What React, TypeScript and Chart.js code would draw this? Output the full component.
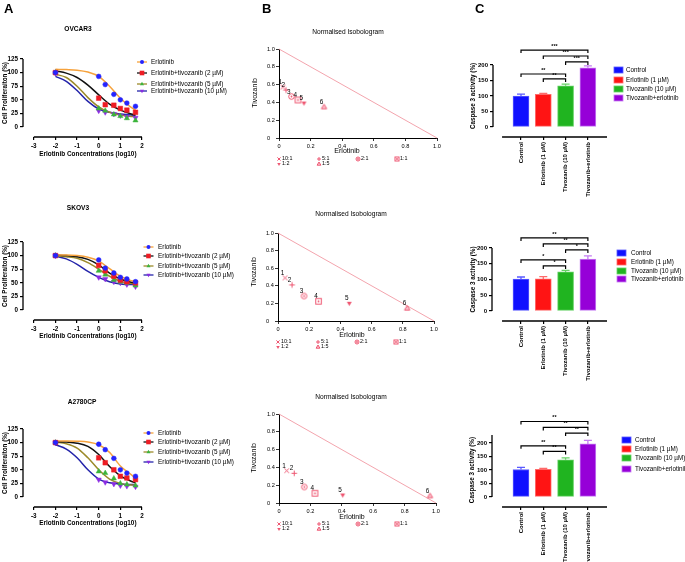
import React, { useEffect, useRef } from "react";
import { Chart, registerables } from "chart.js";

Chart.register(...registerables);

const W = 685;
const H = 562;
const FF = "'Liberation Sans', Arial, Helvetica, sans-serif";

// ---------------- Panel A : dose-response ----------------
const DOSE_LOG10 = [-2, 0, 0.301, 0.699, 1, 1.301, 1.699];
const FIT_LOG10 = [-2, -1.5, -1, -0.5, 0, 0.5, 1, 1.5, 1.7];
const A_SERIES = [
  "Erlotinib",
  "Erlotinib+tivozanib (2 µM)",
  "Erlotinib+tivozanib (5 µM)",
  "Erlotinib+tivozanib (10 µM)",
];
const A_X_TICKS = [-3, -2, -1, 0, 1, 2];
const A_Y_TICKS = [0, 25, 50, 75, 100, 125];

const OVCAR3_ERL = [100, 93, 78, 60, 50, 44, 38];
const OVCAR3_TIV2 = [100, 53, 41, 40, 34, 31, 27];
const OVCAR3_TIV5 = [100, 34, 30, 23, 20, 16, 12];
const OVCAR3_TIV10 = [99, 30, 27, 24, 21, 19, 17];
const OVCAR3_FIT_ERL = [106, 105.5, 104.5, 101, 93, 75, 53, 36, 31];
const OVCAR3_FIT_TIV2 = [103, 99, 91, 77, 59, 42, 31, 24, 22];
const OVCAR3_FIT_TIV5 = [97, 91, 75, 54, 37, 27, 22, 19.5, 19];
const OVCAR3_FIT_TIV10 = [93, 84, 67, 47, 33, 27, 24, 22, 21];

const SKOV3_ERL = [100, 92, 77, 68, 60, 57, 52];
const SKOV3_TIV2 = [100, 82, 72, 62, 55, 52, 50];
const SKOV3_TIV5 = [100, 72, 65, 55, 52, 50, 45];
const SKOV3_TIV10 = [100, 60, 57, 52, 50, 47, 43];
const SKOV3_FIT_ERL = [101, 101, 100, 97, 90, 76, 62, 54, 52];
const SKOV3_FIT_TIV2 = [101, 100, 98, 93, 83, 68, 57, 51, 50];
const SKOV3_FIT_TIV5 = [100, 98, 95, 87, 75, 62, 53, 49, 48];
const SKOV3_FIT_TIV10 = [99, 94, 84, 71, 60, 52, 48, 47, 47];

const A2780_ERL = [100, 97, 87, 71, 50, 44, 38];
const A2780_TIV2 = [100, 72, 63, 50, 38, 35, 32];
const A2780_TIV5 = [100, 47, 44, 34, 25, 23, 21];
const A2780_TIV10 = [100, 32, 27, 24, 21, 20, 19];
const A2780_FIT_ERL = [103, 103, 102.5, 101, 96, 82, 57, 41, 35];
const A2780_FIT_TIV2 = [102, 101, 99, 93, 78, 56, 39, 29, 26];
const A2780_FIT_TIV5 = [101, 98, 90, 72, 50, 33, 25, 22, 22];
const A2780_FIT_TIV10 = [96, 88, 72, 50, 33, 26, 24, 23, 23];

// ---------------- Panel B : normalised isobolograms ----------------
const ISO_RATIOS = ["10:1", "5:1", "2:1", "1:1", "1:2", "1:5"];
const ISO_TICKS = [0, 0.2, 0.4, 0.6, 0.8, 1.0];
const ISO_ADD_X = [0, 1];
const ISO_ADD_Y = [1, 0];
const OVCAR3_ISO_X = [0.025, 0.044, 0.079, 0.12, 0.158, 0.285];
const OVCAR3_ISO_Y = [0.573, 0.539, 0.466, 0.427, 0.393, 0.348];
const SKOV3_ISO_X = [0.045, 0.09, 0.167, 0.26, 0.457, 0.828];
const SKOV3_ISO_Y = [0.49, 0.41, 0.284, 0.224, 0.201, 0.144];
const A2780_ISO_X = [0.049, 0.097, 0.161, 0.229, 0.406, 0.962];
const A2780_ISO_Y = [0.363, 0.334, 0.18, 0.109, 0.09, 0.079];

// ---------------- Panel C : caspase 3 activity ----------------
const C_GROUPS = ["Control", "Erlotinib (1 µM)", "Tivozanib (10 µM)", "Tivozanib+erlotinib"];
const C_LEGEND = ["Control", "Erlotinib (1 µM)", "Tivozanib (10 µM)", "Tivozanib+erlotinib"];
const C_Y_TICKS = [0, 50, 100, 150, 200];
const OVCAR3_CASP = [100, 105, 133, 191];
const OVCAR3_CASP_ERR = [6, 3, 5, 6];
const SKOV3_CASP = [101, 102, 124, 165];
const SKOV3_CASP_ERR = [7, 7, 5, 10];
const A2780_CASP = [102, 103, 138, 197];
const A2780_CASP_ERR = [8, 3, 7, 13];
const SIG_PAIRS = [[0, 3], [1, 3], [2, 3], [0, 2], [1, 2]];
const OVCAR3_SIG = ["***", "***", "***", "**", "**"];
const SKOV3_SIG = ["**", "**", "*", "*", "*"];
const A2780_SIG = ["**", "**", "**", "**", "**"];

// ---------------- styles ----------------
const A_POINT_COLOR = ["#2424ff", "#ee1c24", "#3cb43c", "#8a2be2"];
const A_LINE_COLOR = ["#f6a23c", "#111111", "#9c8a2a", "#2424aa"];
const A_POINT_STYLE = ["circle", "rect", "triangle", "triangle"];
const A_POINT_ROT = [0, 0, 0, 180];
const A_POINT_R = [2.4, 3.3, 3.0, 3.0];
const A_MARK = ["circle", "square", "tri", "triDown"];
const ISO_MARKS = ["x", "plus", "circDot", "rectDot", "triDown", "triOpen"];
const ISO_COLOR = "#ee5570";
const ISO_LINE_COLOR = "#f29aa4";
const C_FILL = ["#1010ff", "#ff1414", "#20b420", "#9600d8"];
const C_EDGE = ["#5a5aff", "#ff6a6a", "#66d266", "#c57cf2"];

type Area = { l: number; t: number; r: number; b: number };

function pad(a: Area, yw: number, xh: number) {
  return { left: a.l - yw, top: a.t, right: W - a.r, bottom: H - a.b - xh };
}
const fixTicks = (vals: number[]) => (s: any) => {
  s.ticks = vals.map((v) => ({ value: v }));
};

function drawText(
  ctx: CanvasRenderingContext2D,
  s: string,
  x: number,
  y: number,
  font: string,
  align: CanvasTextAlign = "center",
  rot = 0,
  baseline: CanvasTextBaseline = "middle"
) {
  ctx.save();
  ctx.translate(x, y);
  if (rot) ctx.rotate(rot);
  ctx.font = font;
  ctx.fillStyle = "#000";
  ctx.textAlign = align;
  ctx.textBaseline = baseline;
  ctx.fillText(s, 0, 0);
  ctx.restore();
}

function drawMark(ctx: CanvasRenderingContext2D, kind: string, x: number, y: number, r: number, color: string) {
  ctx.save();
  ctx.strokeStyle = color;
  ctx.fillStyle = color;
  ctx.lineWidth = 1;
  ctx.beginPath();
  if (kind === "circle") {
    ctx.arc(x, y, r, 0, 2 * Math.PI);
    ctx.fill();
  } else if (kind === "square") {
    ctx.fillRect(x - r, y - r, 2 * r, 2 * r);
  } else if (kind === "tri") {
    ctx.moveTo(x, y - r);
    ctx.lineTo(x + r * 0.87, y + r * 0.5);
    ctx.lineTo(x - r * 0.87, y + r * 0.5);
    ctx.closePath();
    ctx.fill();
  } else if (kind === "triDown") {
    ctx.moveTo(x, y + r);
    ctx.lineTo(x + r * 0.87, y - r * 0.5);
    ctx.lineTo(x - r * 0.87, y - r * 0.5);
    ctx.closePath();
    ctx.fill();
  } else if (kind === "x") {
    ctx.moveTo(x - r * 0.8, y - r * 0.8);
    ctx.lineTo(x + r * 0.8, y + r * 0.8);
    ctx.moveTo(x + r * 0.8, y - r * 0.8);
    ctx.lineTo(x - r * 0.8, y + r * 0.8);
    ctx.stroke();
  } else if (kind === "plus") {
    ctx.moveTo(x - r, y);
    ctx.lineTo(x + r, y);
    ctx.moveTo(x, y - r);
    ctx.lineTo(x, y + r);
    ctx.stroke();
  } else if (kind === "circDot") {
    ctx.arc(x, y, r, 0, 2 * Math.PI);
    ctx.stroke();
    ctx.beginPath();
    ctx.arc(x, y, 0.9, 0, 2 * Math.PI);
    ctx.fill();
  } else if (kind === "rectDot") {
    ctx.strokeRect(x - r, y - r, 2 * r, 2 * r);
    ctx.beginPath();
    ctx.arc(x, y, 0.9, 0, 2 * Math.PI);
    ctx.fill();
  } else if (kind === "triOpen") {
    ctx.moveTo(x, y - r);
    ctx.lineTo(x + r * 0.95, y + r * 0.6);
    ctx.lineTo(x - r * 0.95, y + r * 0.6);
    ctx.closePath();
    ctx.globalAlpha = 0.3;
    ctx.fill();
    ctx.globalAlpha = 1;
    ctx.stroke();
  }
  ctx.restore();
}

function markerImage(kind: string, color: string) {
  const c = document.createElement("canvas");
  c.width = 9;
  c.height = 9;
  const ctx = c.getContext("2d")!;
  drawMark(ctx, kind, 4.5, 4.5, 2.8, color);
  return c;
}

const baseOptions = {
  responsive: false,
  animation: false,
  devicePixelRatio: 1,
  events: [],
};

// ---------------- Panel A builder ----------------
type ASpec = {
  title: string;
  titleX: number;
  titleY: number;
  points: number[][];
  fits: number[][];
  area: Area;
  xLabelY: number;
  legX: number;
  legTextX: number;
  legYs: number[];
  letter?: boolean;
};

function makeA(s: ASpec) {
  const datasets: any[] = [];
  A_SERIES.forEach((name, i) =>
    datasets.push({
      label: name,
      data: DOSE_LOG10.map((x, k) => ({ x, y: s.points[i][k] })),
      showLine: false,
      pointStyle: A_POINT_STYLE[i],
      pointRotation: A_POINT_ROT[i],
      pointRadius: A_POINT_R[i],
      pointBackgroundColor: A_POINT_COLOR[i],
      pointBorderColor: A_POINT_COLOR[i],
      pointBorderWidth: 0.5,
      clip: false,
    })
  );
  A_SERIES.forEach((name, i) =>
    datasets.push({
      label: name + " (fit)",
      data: FIT_LOG10.map((x, k) => ({ x, y: s.fits[i][k] })),
      showLine: true,
      cubicInterpolationMode: "monotone",
      borderColor: A_LINE_COLOR[i],
      borderWidth: 1.5,
      pointRadius: 0,
      clip: false,
    })
  );
  const tickFont = { family: FF, size: 6.3, weight: "bold" as const };
  return {
    type: "scatter",
    data: { datasets },
    options: {
      ...baseOptions,
      layout: { padding: pad(s.area, 20, 15) },
      plugins: { legend: { display: false }, tooltip: { enabled: false } },
      scales: {
        x: {
          type: "linear",
          min: -3.5,
          max: 2,
          afterBuildTicks: fixTicks(A_X_TICKS),
          afterFit: (sc: any) => {
            sc.height = 15;
          },
          ticks: { autoSkip: false, maxRotation: 0, padding: 2, color: "#000", font: tickFont, callback: (v: any) => String(v) },
          grid: { drawOnChartArea: false, tickLength: 3, color: "#000", lineWidth: 1.2 },
          border: { display: false },
        },
        y: {
          type: "linear",
          min: -18.4,
          max: 125,
          afterBuildTicks: fixTicks(A_Y_TICKS),
          afterFit: (sc: any) => {
            sc.width = 20;
          },
          ticks: { padding: 2, color: "#000", font: tickFont, callback: (v: any) => String(v) },
          grid: { drawOnChartArea: false, tickLength: 3, color: "#000", lineWidth: 1.2 },
          border: { display: false },
        },
      },
    },
    plugins: [
      {
        id: "aDecor",
        afterDraw(chart: any) {
          const ctx = chart.ctx as CanvasRenderingContext2D;
          const ca = chart.chartArea;
          const xs = chart.scales.x;
          const ys = chart.scales.y;
          ctx.save();
          ctx.strokeStyle = "#000";
          ctx.lineWidth = 1.3;
          ctx.beginPath();
          ctx.moveTo(ca.left, ys.getPixelForValue(0));
          ctx.lineTo(ca.left, ys.getPixelForValue(125));
          ctx.moveTo(xs.getPixelForValue(-3), ca.bottom);
          ctx.lineTo(xs.getPixelForValue(2), ca.bottom);
          ctx.stroke();
          ctx.restore();
          drawText(ctx, s.title, s.titleX, s.titleY, `bold 6.6px ${FF}`);
          drawText(
            ctx,
            "Erlotinib Concentrations (log10)",
            (xs.getPixelForValue(-3) + xs.getPixelForValue(2)) / 2,
            s.xLabelY,
            `bold 6.4px ${FF}`
          );
          drawText(ctx, "Cell Proliferaiton (%)", 5, (ca.top + ys.getPixelForValue(0)) / 2, `bold 6.3px ${FF}`, "center", -Math.PI / 2);
          A_SERIES.forEach((name, i) => {
            const y = s.legYs[i];
            ctx.save();
            ctx.strokeStyle = A_LINE_COLOR[i];
            ctx.lineWidth = 1.3;
            ctx.beginPath();
            ctx.moveTo(s.legX - 5, y);
            ctx.lineTo(s.legX + 5, y);
            ctx.stroke();
            ctx.restore();
            drawMark(ctx, A_MARK[i], s.legX, y, i === 0 ? 2 : 2.3, A_POINT_COLOR[i]);
            drawText(ctx, name, s.legTextX, y, `6.4px ${FF}`, "left");
          });
          if (s.letter) drawText(ctx, "A", 4, 13, `bold 13px ${FF}`, "left", 0, "alphabetic");
        },
      },
    ],
  };
}

// ---------------- Panel B builder ----------------
type BSpec = {
  xs: number[];
  ys: number[];
  area: Area;
  titleX: number;
  titleY: number;
  xLabelX: number;
  xLabelY: number;
  yLabelX: number;
  yLabelY: number;
  letter?: boolean;
};

const LEG_B = [
  [0, 21],
  [40, 21],
  [79, 21],
  [118, 21],
  [0, 26],
  [40, 26],
];

function makeB(s: BSpec) {
  const marks = ISO_MARKS.map((k) => markerImage(k, ISO_COLOR));
  const tickFont = { family: FF, size: 5.6 };
  const fmt = (v: any) => (v === 0 ? "0" : Number(v).toFixed(1));
  return {
    type: "scatter",
    data: {
      datasets: [
        {
          label: "combinations",
          data: s.xs.map((x, i) => ({ x, y: s.ys[i] })),
          showLine: false,
          pointStyle: marks,
          pointRadius: 3,
          clip: false,
        },
        {
          label: "additivity",
          data: ISO_ADD_X.map((x, i) => ({ x, y: ISO_ADD_Y[i] })),
          showLine: true,
          borderColor: ISO_LINE_COLOR,
          borderWidth: 0.9,
          pointRadius: 0,
          clip: false,
        },
      ],
    },
    options: {
      ...baseOptions,
      layout: { padding: pad(s.area, 12, 10) },
      plugins: { legend: { display: false }, tooltip: { enabled: false } },
      scales: {
        x: {
          type: "linear",
          min: 0,
          max: 1,
          afterBuildTicks: fixTicks(ISO_TICKS),
          afterFit: (sc: any) => {
            sc.height = 10;
          },
          ticks: { autoSkip: false, maxRotation: 0, padding: 2, color: "#000", font: tickFont, callback: fmt },
          grid: { drawOnChartArea: false, tickLength: 3, color: "#000", lineWidth: 0.8 },
          border: { display: true, color: "#000", width: 1 },
        },
        y: {
          type: "linear",
          min: 0,
          max: 1,
          afterBuildTicks: fixTicks(ISO_TICKS),
          afterFit: (sc: any) => {
            sc.width = 12;
          },
          ticks: { padding: 2, crossAlign: "far", color: "#000", font: tickFont, callback: fmt },
          grid: { drawOnChartArea: false, tickLength: 3, color: "#000", lineWidth: 0.8 },
          border: { display: true, color: "#000", width: 1 },
        },
      },
    },
    plugins: [
      {
        id: "bDecor",
        afterDraw(chart: any) {
          const ctx = chart.ctx as CanvasRenderingContext2D;
          const ca = chart.chartArea;
          drawText(ctx, "Normalised Isobologram", s.titleX, s.titleY, `6.6px ${FF}`);
          drawText(ctx, "Erlotinib", s.xLabelX, s.xLabelY, `7px ${FF}`);
          drawText(ctx, "Tivozanib", s.yLabelX, s.yLabelY, `7px ${FF}`, "center", -Math.PI / 2);
          const meta = chart.getDatasetMeta(0);
          meta.data.forEach((pt: any, i: number) => {
            drawText(ctx, String(i + 1), pt.x - 2.6, pt.y - 4.6, `6.4px ${FF}`);
          });
          ISO_RATIOS.forEach((r, i) => {
            const x = ca.left + LEG_B[i][0];
            const y = ca.bottom + LEG_B[i][1];
            drawMark(ctx, ISO_MARKS[i], x, y, 2, ISO_COLOR);
            drawText(ctx, r, x + 3, y, `5.4px ${FF}`, "left");
          });
          if (s.letter) drawText(ctx, "B", 262, 13, `bold 13px ${FF}`, "left", 0, "alphabetic");
        },
      },
    ],
  };
}

// ---------------- Panel C builder ----------------
type CSpec = {
  vals: number[];
  errs: number[];
  sig: string[];
  sigLevels: number[];
  area: Area;
  xMin: number;
  xMax: number;
  yMin: number;
  yMax: number;
  yAxisTop: number;
  yLabelX: number;
  legBoxX: number;
  legTextX: number;
  legYs: number[];
  letter?: boolean;
};

function makeC(s: CSpec) {
  const tickFont = { family: FF, size: 6, weight: "bold" as const };
  const xh = Math.min(70, H - s.area.b);
  return {
    type: "bar",
    data: {
      datasets: [
        {
          label: "Caspase 3 activity",
          data: s.vals.map((v, i) => ({ x: i, y: v })),
          backgroundColor: C_FILL,
          borderColor: C_EDGE,
          borderWidth: 1,
          borderSkipped: false,
          barThickness: 16,
        },
      ],
    },
    options: {
      ...baseOptions,
      layout: { padding: pad(s.area, 20, xh) },
      plugins: { legend: { display: false }, tooltip: { enabled: false } },
      scales: {
        x: {
          type: "linear",
          min: s.xMin,
          max: s.xMax,
          offset: false,
          afterBuildTicks: fixTicks([0, 1, 2, 3]),
          afterFit: (sc: any) => {
            sc.height = xh;
          },
          ticks: {
            autoSkip: false,
            minRotation: 90,
            maxRotation: 90,
            padding: 2,
            color: "#000",
            font: tickFont,
            callback: (v: any) => C_GROUPS[v] ?? "",
          },
          grid: { drawOnChartArea: false, offset: false, tickLength: 3, color: "#000", lineWidth: 1.2 },
          border: { display: false },
        },
        y: {
          type: "linear",
          min: s.yMin,
          max: s.yMax,
          afterBuildTicks: fixTicks(C_Y_TICKS),
          afterFit: (sc: any) => {
            sc.width = 20;
          },
          ticks: { padding: 2, color: "#000", font: tickFont, callback: (v: any) => String(v) },
          grid: { drawOnChartArea: false, tickLength: 3, color: "#000", lineWidth: 1.2 },
          border: { display: false },
        },
      },
    },
    plugins: [
      {
        id: "cDecor",
        afterDatasetsDraw(chart: any) {
          const ctx = chart.ctx as CanvasRenderingContext2D;
          const xs = chart.scales.x;
          const ys = chart.scales.y;
          s.vals.forEach((v, i) => {
            const x = xs.getPixelForValue(i);
            const y0 = ys.getPixelForValue(v);
            const y1 = ys.getPixelForValue(v + s.errs[i]);
            ctx.save();
            ctx.strokeStyle = C_EDGE[i];
            ctx.lineWidth = 1.3;
            ctx.beginPath();
            ctx.moveTo(x, y0);
            ctx.lineTo(x, y1);
            ctx.moveTo(x - 4, y1);
            ctx.lineTo(x + 4, y1);
            ctx.stroke();
            ctx.restore();
          });
        },
        afterDraw(chart: any) {
          const ctx = chart.ctx as CanvasRenderingContext2D;
          const ca = chart.chartArea;
          const xs = chart.scales.x;
          const ys = chart.scales.y;
          ctx.save();
          ctx.strokeStyle = "#000";
          ctx.lineWidth = 1.3;
          ctx.beginPath();
          ctx.moveTo(ca.left, ys.getPixelForValue(0));
          ctx.lineTo(ca.left, ys.getPixelForValue(s.yAxisTop));
          ctx.moveTo(xs.getPixelForValue(-0.85), ca.bottom);
          ctx.lineTo(ca.right, ca.bottom);
          ctx.stroke();
          ctx.lineWidth = 1.2;
          SIG_PAIRS.forEach(([a, b], k) => {
            const x1 = xs.getPixelForValue(a);
            const x2 = xs.getPixelForValue(b);
            const y = ys.getPixelForValue(s.sigLevels[k]);
            ctx.beginPath();
            ctx.moveTo(x1, y + 3);
            ctx.lineTo(x1, y);
            ctx.lineTo(x2, y);
            ctx.lineTo(x2, y + 3);
            ctx.stroke();
          });
          ctx.restore();
          SIG_PAIRS.forEach(([a, b], k) => {
            const x1 = xs.getPixelForValue(a);
            const x2 = xs.getPixelForValue(b);
            const y = ys.getPixelForValue(s.sigLevels[k]);
            drawText(ctx, s.sig[k], (x1 + x2) / 2, y - 3.6, `bold 5.4px ${FF}`);
          });
          drawText(
            ctx,
            "Caspase 3 activity (%)",
            s.yLabelX,
            (ys.getPixelForValue(0) + ys.getPixelForValue(200)) / 2,
            `bold 6.3px ${FF}`,
            "center",
            -Math.PI / 2
          );
          C_LEGEND.forEach((name, i) => {
            const y = s.legYs[i];
            ctx.save();
            ctx.fillStyle = C_FILL[i];
            ctx.fillRect(s.legBoxX, y - 3, 9, 6);
            ctx.strokeStyle = C_EDGE[i];
            ctx.lineWidth = 0.8;
            ctx.strokeRect(s.legBoxX, y - 3, 9, 6);
            ctx.restore();
            drawText(ctx, name, s.legTextX, y, `6.3px ${FF}`, "left");
          });
          if (s.letter) drawText(ctx, "C", 475, 13, `bold 13px ${FF}`, "left", 0, "alphabetic");
        },
      },
    ],
  };
}

// ---------------- panel specs ----------------
const MAKERS: Array<() => any> = [
  () =>
    makeA({
      title: "OVCAR3",
      titleX: 78,
      titleY: 29,
      points: [OVCAR3_ERL, OVCAR3_TIV2, OVCAR3_TIV5, OVCAR3_TIV10],
      fits: [OVCAR3_FIT_ERL, OVCAR3_FIT_TIV2, OVCAR3_FIT_TIV5, OVCAR3_FIT_TIV10],
      area: { l: 23, t: 59, r: 142, b: 137 },
      xLabelY: 154,
      legX: 142,
      legTextX: 151,
      legYs: [62, 73, 84, 91],
      letter: true,
    }),
  () =>
    makeA({
      title: "SKOV3",
      titleX: 78,
      titleY: 208,
      points: [SKOV3_ERL, SKOV3_TIV2, SKOV3_TIV5, SKOV3_TIV10],
      fits: [SKOV3_FIT_ERL, SKOV3_FIT_TIV2, SKOV3_FIT_TIV5, SKOV3_FIT_TIV10],
      area: { l: 23, t: 242, r: 142, b: 320 },
      xLabelY: 336,
      legX: 148.5,
      legTextX: 158,
      legYs: [247, 256, 266, 275],
    }),
  () =>
    makeA({
      title: "A2780CP",
      titleX: 82,
      titleY: 402,
      points: [A2780_ERL, A2780_TIV2, A2780_TIV5, A2780_TIV10],
      fits: [A2780_FIT_ERL, A2780_FIT_TIV2, A2780_FIT_TIV5, A2780_FIT_TIV10],
      area: { l: 23, t: 429, r: 142, b: 507 },
      xLabelY: 523,
      legX: 148.5,
      legTextX: 158,
      legYs: [433, 442, 452, 462],
    }),
  () =>
    makeB({
      xs: OVCAR3_ISO_X,
      ys: OVCAR3_ISO_Y,
      area: { l: 279, t: 49, r: 437, b: 138 },
      titleX: 348,
      titleY: 32,
      xLabelX: 347,
      xLabelY: 151,
      yLabelX: 255,
      yLabelY: 93,
      letter: true,
    }),
  () =>
    makeB({
      xs: SKOV3_ISO_X,
      ys: SKOV3_ISO_Y,
      area: { l: 278, t: 233, r: 434, b: 321 },
      titleX: 351,
      titleY: 214,
      xLabelX: 352,
      xLabelY: 335,
      yLabelX: 254,
      yLabelY: 272,
    }),
  () =>
    makeB({
      xs: A2780_ISO_X,
      ys: A2780_ISO_Y,
      area: { l: 279, t: 414, r: 436, b: 503 },
      titleX: 351,
      titleY: 397,
      xLabelX: 352,
      xLabelY: 517,
      yLabelX: 254,
      yLabelY: 458,
    }),
  () =>
    makeC({
      vals: OVCAR3_CASP,
      errs: OVCAR3_CASP_ERR,
      sig: OVCAR3_SIG,
      sigLevels: [248, 229, 210, 171, 155],
      area: { l: 493, t: 65, r: 607, b: 137 },
      xMin: -1.256,
      xMax: 3.857,
      yMin: -32.3,
      yMax: 200,
      yAxisTop: 200,
      yLabelX: 473,
      legBoxX: 614,
      legTextX: 626,
      legYs: [70, 80, 89, 98],
      letter: true,
    }),
  () =>
    makeC({
      vals: SKOV3_CASP,
      errs: SKOV3_CASP_ERR,
      sig: SKOV3_SIG,
      sigLevels: [232, 213, 194, 162, 143],
      area: { l: 492, t: 248, r: 607, b: 321 },
      xMin: -1.3,
      xMax: 3.857,
      yMin: -31.7,
      yMax: 200,
      yAxisTop: 200,
      yLabelX: 473,
      legBoxX: 617,
      legTextX: 631,
      legYs: [253, 262, 271, 279],
    }),
  () =>
    makeC({
      vals: A2780_CASP,
      errs: A2780_CASP_ERR,
      sig: A2780_SIG,
      sigLevels: [280, 258, 237, 190, 169],
      area: { l: 492, t: 435, r: 607, b: 507 },
      xMin: -1.3,
      xMax: 3.857,
      yMin: -37,
      yMax: 230,
      yAxisTop: 230,
      yLabelX: 472,
      legBoxX: 622,
      legTextX: 635,
      legYs: [440, 449, 458, 469],
    }),
];

function ChartCanvas({ make }: { make: () => any }) {
  const ref = useRef<HTMLCanvasElement>(null);
  useEffect(() => {
    const chart = new Chart(ref.current as HTMLCanvasElement, make());
    return () => chart.destroy();
  }, [make]);
  return (
    <canvas
      ref={ref}
      width={W}
      height={H}
      style={{ position: "absolute", left: 0, top: 0, width: W, height: H }}
    />
  );
}

export default function App() {
  return (
    <div
      style={{
        position: "absolute",
        left: 0,
        top: 0,
        width: W,
        height: H,
        background: "#fff",
        overflow: "hidden",
      }}
    >
      {MAKERS.map((m, i) => (
        <ChartCanvas key={i} make={m} />
      ))}
    </div>
  );
}
